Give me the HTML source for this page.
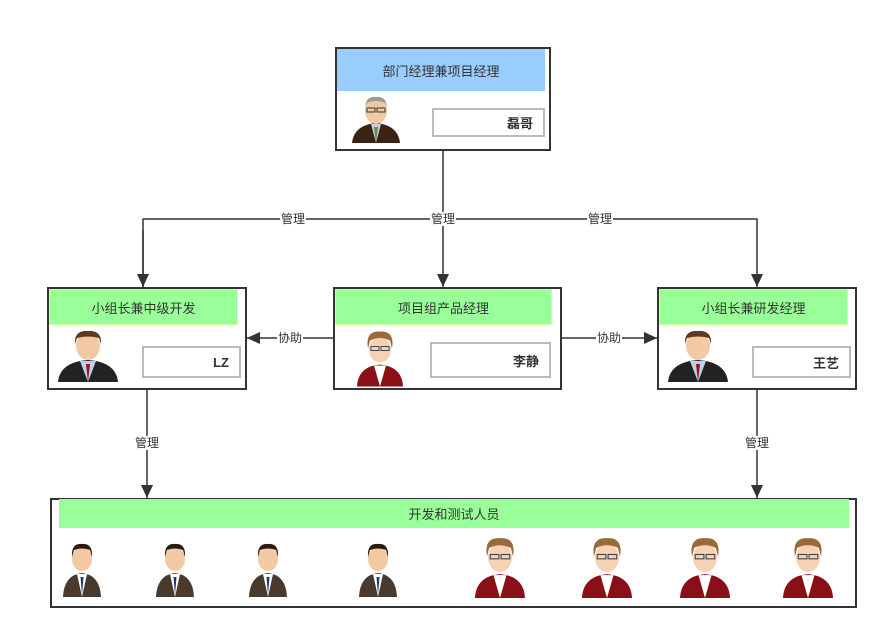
<!DOCTYPE html>
<html><head><meta charset="utf-8"><style>
body{margin:0;width:888px;height:639px;background:#fff;position:relative;overflow:hidden;font-family:"Liberation Sans","Noto Sans CJK SC",sans-serif;}
.a{position:absolute;box-sizing:border-box;}
.box{border:2px solid #333;background:#fff;}
.hd{font-size:13px;color:#333;display:flex;align-items:center;justify-content:center;}
.g{background:#99ff99;border:1px solid #ccff99;}
.nm{border:2px solid #bbb;background:#fff;font-size:13px;font-weight:bold;color:#333;text-align:right;padding-right:10px;display:flex;align-items:center;justify-content:flex-end;}
.lb{position:absolute;font-size:12px;color:#333;background:#fff;transform:translate(-50%,-50%);line-height:14px;padding:0 1px;}
svg{position:absolute;left:0;top:0;}
</style></head><body>
<svg width="888" height="639">
<defs>
<marker id="ar" markerWidth="14" markerHeight="12" refX="13" refY="6" orient="auto" markerUnits="userSpaceOnUse"><path d="M0,0 L13,6 L0,12 Z" fill="#333"/></marker>
<g id="old"><path d="M2,48 Q4,30 26,28 Q48,30 50,48Z" fill="#3b2315"/><path d="M21,29 L26,48 L31,29Z" fill="#ccd"/><path d="M24,32 L26,48 L28,32Z" fill="#5a8a5a"/><ellipse cx="26" cy="16" rx="11" ry="13" fill="#f1c9a5"/><path d="M15,12 Q16,1 26,2 Q36,1 37,12 L35,8 Q26,4 17,8Z" fill="#999"/><rect x="17" y="13" width="8" height="4" fill="none" stroke="#333" stroke-width="1"/><rect x="27" y="13" width="8" height="4" fill="none" stroke="#333" stroke-width="1"/></g>
<g id="man"><path d="M0,52 Q2,32 30,30 Q58,32 60,52Z" fill="#222"/><path d="M22,31 L30,52 L38,31Z" fill="#bcd2ea"/><path d="M28,34 L30,52 L32,34Z" fill="#a0101a"/><ellipse cx="30" cy="16" rx="12" ry="14" fill="#f3c9a3"/><path d="M17,14 Q16,0 30,1 Q44,0 43,14 L41,8 Q30,5 19,8Z" fill="#5a3a22"/></g>
<g id="dev"><path d="M2,60 Q3,38 21,36 Q39,38 40,60Z" fill="#4a3a2e"/><path d="M16,37 L21,60 L26,37Z" fill="#fff"/><path d="M19.5,40 L21,58 L22.5,40Z" fill="#1a3a7a"/><ellipse cx="21" cy="22" rx="10" ry="12" fill="#f3c9a3"/><path d="M11,20 Q10,6 21,7 Q32,6 31,20 L29,13 Q21,10 13,13Z" fill="#2a1a10"/></g>
<g id="fem"><path d="M2,60 Q3,40 25,38 Q47,40 48,60Z" fill="#8a0f16"/><path d="M19,39 L25,60 L31,39Z" fill="#fff"/><ellipse cx="25" cy="23" rx="11" ry="13" fill="#f6d2b5"/><path d="M13,22 Q10,4 25,5 Q40,4 37,22 L35,14 Q25,9 15,14Z" fill="#9a6a3a"/><rect x="16" y="20" width="8" height="4" fill="none" stroke="#444"/><rect x="26" y="20" width="8" height="4" fill="none" stroke="#444"/></g>
</defs>
<g stroke="#333" stroke-width="1.5" fill="none">
<line x1="443" y1="150" x2="443" y2="287" marker-end="url(#ar)"/>
<polyline points="143,287 143,219 757,219 757,287" marker-end="url(#ar)"/>
<line x1="143" y1="230" x2="143" y2="287" marker-end="url(#ar)"/>
<line x1="334" y1="338" x2="247" y2="338" marker-end="url(#ar)"/>
<line x1="561" y1="338" x2="657" y2="338" marker-end="url(#ar)"/>
<line x1="147" y1="389" x2="147" y2="498" marker-end="url(#ar)"/>
<line x1="757" y1="389" x2="757" y2="498" marker-end="url(#ar)"/>
</g>
</svg>
<div class="lb" style="left:293px;top:219px">管理</div>
<div class="lb" style="left:443px;top:219px">管理</div>
<div class="lb" style="left:600px;top:219px">管理</div>
<div class="lb" style="left:290px;top:338px">协助</div>
<div class="lb" style="left:609px;top:338px">协助</div>
<div class="lb" style="left:147px;top:443px">管理</div>
<div class="lb" style="left:757px;top:443px">管理</div>

<div class="a box" style="left:335px;top:47px;width:216px;height:104px"></div>
<div class="a hd" style="left:337px;top:49px;width:208px;height:42px;background:#99ccff">部门经理兼项目经理</div>
<svg class="a" style="left:350px;top:95px" width="54" height="49"><use href="#old"/></svg>
<div class="a nm" style="left:432px;top:108px;width:113px;height:29px">磊哥</div>

<div class="a box" style="left:47px;top:287px;width:200px;height:103px"></div>
<div class="a hd g" style="left:49px;top:289px;width:189px;height:36px">小组长兼中级开发</div>
<svg class="a" style="left:58px;top:330px" width="62" height="53"><use href="#man"/></svg>
<div class="a nm" style="left:142px;top:346px;width:99px;height:32px">LZ</div>

<div class="a box" style="left:333px;top:287px;width:229px;height:103px"></div>
<div class="a hd g" style="left:335px;top:289px;width:217px;height:36px">项目组产品经理</div>
<svg class="a" style="left:355px;top:326px" width="50" height="61" viewBox="0 0 50 60"><use href="#fem"/></svg>
<div class="a nm" style="left:430px;top:342px;width:121px;height:36px">李静</div>

<div class="a box" style="left:657px;top:287px;width:200px;height:103px"></div>
<div class="a hd g" style="left:659px;top:289px;width:189px;height:36px">小组长兼研发经理</div>
<svg class="a" style="left:668px;top:330px" width="62" height="53"><use href="#man"/></svg>
<div class="a nm" style="left:752px;top:346px;width:99px;height:32px">王艺</div>

<div class="a box" style="left:50px;top:498px;width:807px;height:110px"></div>
<div class="a hd g" style="left:59px;top:499px;width:790px;height:29px;border:none">开发和测试人员</div>
<svg class="a" style="left:61px;top:537px" width="42" height="61"><use href="#dev"/></svg>
<svg class="a" style="left:154px;top:537px" width="42" height="61"><use href="#dev"/></svg>
<svg class="a" style="left:247px;top:537px" width="42" height="61"><use href="#dev"/></svg>
<svg class="a" style="left:357px;top:537px" width="42" height="61"><use href="#dev"/></svg>
<svg class="a" style="left:472px;top:536px" width="56" height="62" viewBox="0 3 50 57"><use href="#fem"/></svg>
<svg class="a" style="left:579px;top:536px" width="56" height="62" viewBox="0 3 50 57"><use href="#fem"/></svg>
<svg class="a" style="left:677px;top:536px" width="56" height="62" viewBox="0 3 50 57"><use href="#fem"/></svg>
<svg class="a" style="left:780px;top:536px" width="56" height="62" viewBox="0 3 50 57"><use href="#fem"/></svg>
</body></html>
